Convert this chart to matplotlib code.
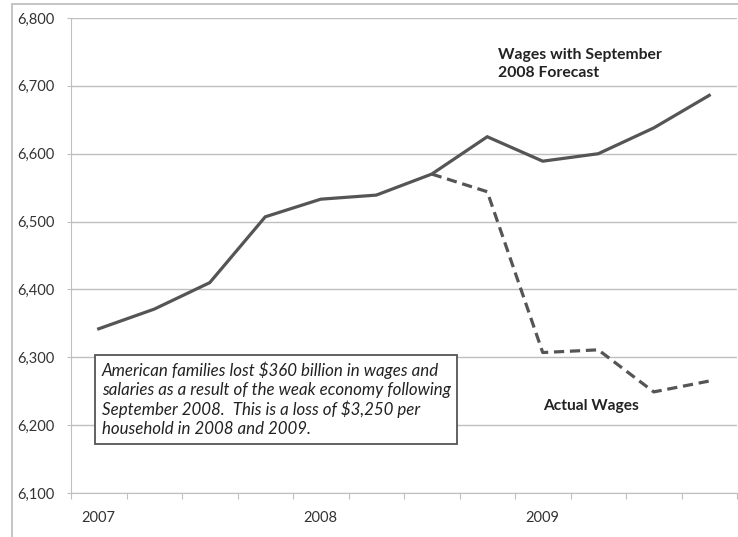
import matplotlib
matplotlib.use("Agg")
import matplotlib.pyplot as plt
from matplotlib.patches import Rectangle
import numpy as np

quarters = ["2007 Q1", "2007 Q2", "2007 Q3", "2007 Q4",
            "2008 Q1", "2008 Q2", "2008 Q3", "2008 Q4",
            "2009 Q1", "2009 Q2", "2009 Q3", "2009 Q4"]
forecast = [6342, 6371, 6410, 6507, 6533, 6539, 6570, 6625, 6589, 6600, 6638, 6686]
actual_idx = [6, 7, 8, 9, 10, 11]
actual = [6570, 6544, 6307, 6311, 6249, 6265]
year_labels = ["2007", "2008", "2009"]
year_pos = [0, 4, 8]
yticks = [6100, 6200, 6300, 6400, 6500, 6600, 6700, 6800]

plt.rcParams['font.family'] = ['Lato', 'DejaVu Sans']

fig = plt.figure(figsize=(7.38, 5.37), dpi=100)
fig.patch.set_facecolor("white")
fig.patches.append(Rectangle((12/738, -0.1), 1.2, 1.1 - 4/537, transform=fig.transFigure,
                             fill=False, edgecolor="#bbbbbb", linewidth=1.2))

ax = fig.add_axes([71/738, 1 - 493/537, 1 - 71/738 - 1/738, (493 - 18)/537])
x = np.arange(len(quarters))
ax.plot(x, forecast, color="#555555", linewidth=2.3, solid_joinstyle="miter")
ax.plot(np.array(actual_idx), actual, color="#555555", linewidth=2.3, linestyle=(0, (3.2, 1.8)))

ax.set_xlim(-0.5, len(quarters) - 0.5)
ax.set_ylim(6100, 6800)
ax.set_yticks(yticks)
ax.set_yticklabels([f"{v:,}" for v in yticks], fontsize=10.5, color="#333333")
ax.yaxis.grid(True, color="#bfbfbf", linewidth=1.0)
ax.set_axisbelow(True)
ax.tick_params(axis="y", length=3, color="#bfbfbf", pad=9)

ax.set_xticks(np.arange(-0.5, len(quarters) + 0.5, 1.0))
ax.set_xticklabels([])
ax.tick_params(axis="x", length=4, color="#bfbfbf", direction="out")
for lab, p in zip(year_labels, year_pos):
    ax.text(p, -0.052, lab, transform=ax.get_xaxis_transform(), ha="center", va="center",
            fontsize=10.5, color="#333333")

for s in ["top", "right"]:
    ax.spines[s].set_visible(False)
ax.spines["left"].set_color("#bfbfbf")
ax.spines["bottom"].set_color("#bfbfbf")

ax.text(7.2, 6732, "Wages with September\n2008 Forecast", fontsize=11.3, fontweight="bold",
        color="#222222", ha="left", va="center", linespacing=1.4)
ax.text(8.0, 6228, "Actual Wages", fontsize=11.2, fontweight="bold", color="#222222",
        ha="left", va="center")

txt = ("American families lost \\$360 billion in wages and\n"
       "salaries as a result of the weak economy following\n"
       "September 2008.  This is a loss of \\$3,250 per\n"
       "household in 2008 and 2009.")
ax.text(0.05, 6238, txt, fontsize=12.2, style="italic", color="#222222", ha="left", va="center",
        linespacing=1.22,
        bbox=dict(boxstyle="square,pad=0.4", facecolor="white", edgecolor="#555555", linewidth=1.3))

fig.savefig("out.png", dpi=100)
